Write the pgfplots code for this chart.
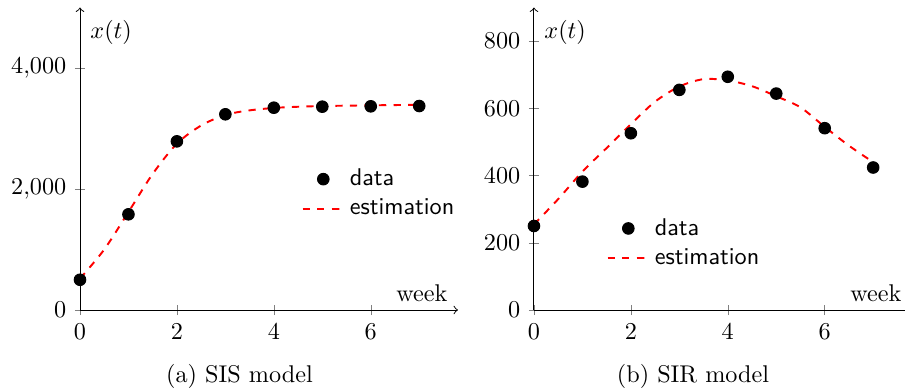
\documentclass[border=0pt]{standalone}
\usepackage{pgfplots}
\pgfplotsset{compat=1.18}
\begin{document}
\begin{tikzpicture}
\pgfplotsset{
  myaxis/.style={
    scale only axis,
    width=156.2pt, height=125pt,
    axis lines=left,
    axis line style={->},
    xmin=0, xmax=7.8,
    ymin=0,
    xtick={0,2,4,6},
    tick align=center,
    major tick style={gray},
    every axis x label/.style={at={(axis description cs:1,0)}, anchor=south east, xshift=-0.8pt},
    every axis y label/.style={at={(axis description cs:0,1)}, anchor=north west, xshift=0.8pt, yshift=-1.9pt},
    xlabel={week},
    ylabel={$x(t)$},
    legend style={draw=none, fill=none, font=\sffamily, anchor=north west},
    legend cell align=left,
  },
  datastyle/.style={only marks, mark=*, mark size=2.4pt, black},
  eststyle/.style={red, dashed, thick, smooth, no marks},
}
\begin{axis}[myaxis, at={(33.06pt,33.88pt)}, anchor=south west,
  ymax=5000, ytick={0,2000,4000},
  legend style={at={(0.566,0.5)}}]
\addplot[datastyle] coordinates {(0,500) (1,1582) (2,2788) (3,3235) (4,3344) (5,3361) (6,3367) (7,3372)};
\addlegendentry{data}
\addplot[eststyle] coordinates {(0,520) (0.5,1000) (1,1620) (1.5,2250) (2,2750) (2.5,3050) (3,3225) (3.5,3300) (4,3340) (4.5,3360) (5,3372) (5.5,3378) (6,3383) (6.5,3388) (7,3392)};
\addlegendentry{estimation}
\end{axis}
\begin{axis}[myaxis, at={(220.66pt,33.88pt)}, anchor=south west,
  ymax=900, ytick={0,200,400,600,800},
  legend style={at={(0.172,0.337)}}]
\addplot[datastyle] coordinates {(0,250) (1,382) (2,526) (3,655) (4,694) (5,644) (6,541) (7,424)};
\addlegendentry{data}
\addplot[eststyle] coordinates {(0,255) (0.5,330) (1,412) (1.5,482) (2,553) (2.5,620) (3,665) (3.5,687) (4,683) (4.5,666) (5,636) (5.5,603) (6,545) (6.5,489) (7,440)};
\addlegendentry{estimation}
\end{axis}
\node[anchor=base] at (98.97pt,4.1pt) {(a) SIS model};
\node[anchor=base] at (286.4pt,4.1pt) {(b) SIR model};
\pgfresetboundingbox
\path[use as bounding box] (0,0) rectangle (374pt,162pt);
\end{tikzpicture}
\end{document}
